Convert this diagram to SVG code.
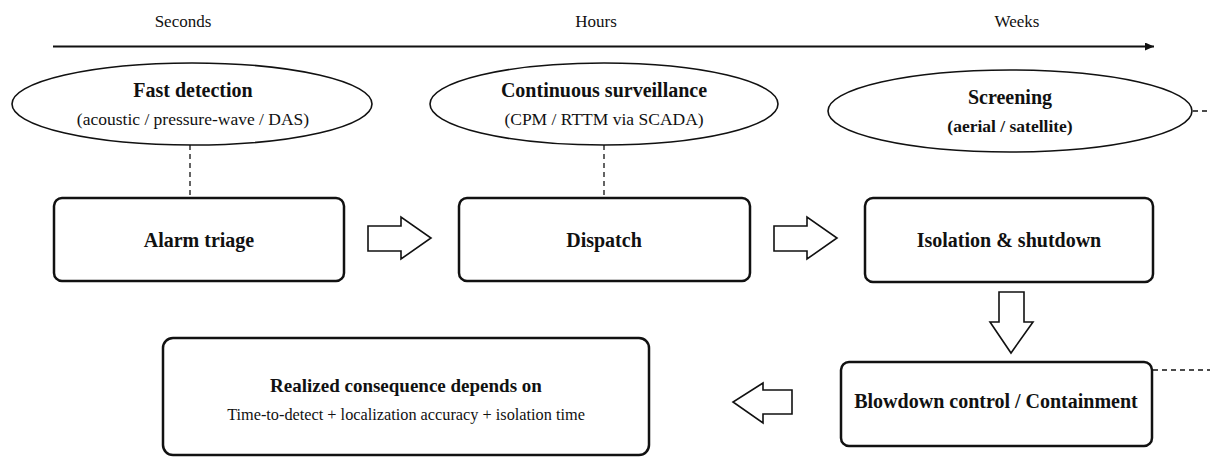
<svg xmlns="http://www.w3.org/2000/svg" width="1210" height="458" viewBox="0 0 1210 458">
<style>
text{font-family:'Liberation Serif','Times New Roman',serif;fill:#111;text-anchor:middle}
.t{font-size:20px;font-weight:bold}
.s{font-size:17.5px}
.sb{font-size:17.5px;font-weight:bold}
.ax{font-size:17px}
.d{font-size:16.3px}
.box{fill:#fff;stroke:#111;stroke-width:2.5}
.ell{fill:#fff;stroke:#111;stroke-width:1.6}
.dash{stroke:#111;stroke-width:1.3;stroke-dasharray:5,4;fill:none}
.blk{fill:#fff;stroke:#111;stroke-width:1.6;stroke-linejoin:miter}
</style>
<defs>
<marker id="ah" markerWidth="10" markerHeight="10" refX="9" refY="4" orient="auto" markerUnits="userSpaceOnUse">
<path d="M0,0 L9,4 L0,8 Z" fill="#111"/>
</marker>
</defs>
<g id="timeline">
<text class="ax" x="183" y="27">Seconds</text>
<text class="ax" x="596" y="27">Hours</text>
<text class="ax" x="1017" y="27">Weeks</text>
<line x1="53" y1="46.5" x2="1154" y2="46.5" stroke="#111" stroke-width="2" marker-end="url(#ah)"/>
</g>
<g id="connectors">
<line class="dash" x1="190" y1="145" x2="190" y2="198"/>
<line class="dash" x1="604" y1="145" x2="604" y2="198"/>
<line class="dash" x1="1193" y1="111" x2="1210" y2="111"/>
<line class="dash" x1="1153" y1="370" x2="1210" y2="370"/>
<path class="blk" d="M368,226 L401,226 L401,217 L431,238 L401,259 L401,251 L368,251 Z"/>
<path class="blk" d="M774,226 L807,226 L807,217 L837,238 L807,259 L807,251 L774,251 Z"/>
<path class="blk" d="M999,292 L1024,292 L1024,322 L1033,322 L1011,353 L990,322 L999,322 Z"/>
<path class="blk" d="M792,390 L763,390 L763,383 L733,402 L763,423 L763,414 L792,414 Z"/>
</g>
<g id="fast-detection">
<ellipse class="ell" cx="192" cy="104" rx="180" ry="41"/>
<text class="t" x="193" y="97">Fast detection</text>
<text class="s" x="193" y="125">(acoustic / pressure-wave / DAS)</text>
</g>
<g id="continuous-surveillance">
<ellipse class="ell" cx="604" cy="104" rx="174" ry="41"/>
<text class="t" x="604" y="97">Continuous surveillance</text>
<text class="s" x="604" y="125">(CPM / RTTM via SCADA)</text>
</g>
<g id="screening">
<ellipse class="ell" cx="1010" cy="111" rx="182" ry="41"/>
<text class="t" x="1010" y="104">Screening</text>
<text class="sb" x="1010" y="132">(aerial / satellite)</text>
</g>
<g id="alarm-triage">
<rect class="box" x="54" y="198" width="290" height="83" rx="8"/>
<text class="t" x="199" y="247">Alarm triage</text>
</g>
<g id="dispatch">
<rect class="box" x="459" y="198" width="291" height="83" rx="8"/>
<text class="t" x="604" y="247">Dispatch</text>
</g>
<g id="isolation">
<rect class="box" x="865" y="198" width="288" height="84" rx="8"/>
<text class="t" x="1009" y="247">Isolation &amp; shutdown</text>
</g>
<g id="blowdown">
<rect class="box" x="841" y="362" width="311" height="84" rx="8"/>
<text class="t" x="996" y="408">Blowdown control / Containment</text>
</g>
<g id="consequence">
<rect class="box" x="163" y="338" width="486" height="117" rx="10"/>
<text class="t" x="406" y="392" style="font-size:19px">Realized consequence depends on</text>
<text class="d" x="406" y="420">Time-to-detect + localization accuracy + isolation time</text>
</g>
</svg>
